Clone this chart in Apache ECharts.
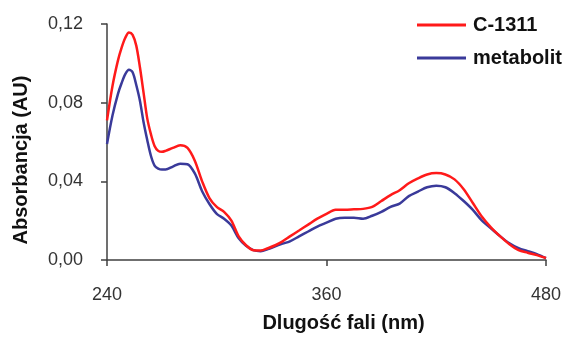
<!DOCTYPE html>
<html>
<head>
<meta charset="utf-8">
<script src="https://cdn.jsdelivr.net/npm/echarts@6/dist/echarts.min.js"></script>
<style>
html,body{margin:0;padding:0;background:#fff;}
#chart{width:565px;height:338px;}
</style>
</head>
<body>
<div id="chart"></div>
<script>
var seriesNames = ['C-1311', 'metabolit'];
var wavelengths = [240,243,246,248,250,252,254,256,258,260,262,264,266,268,270,272,276,280,284,288,292,296,300,304,308,312,316,320,324,328,332,336,340,345,350,355,360,365,370,375,380,385,390,395,400,405,410,415,420,425,430,435,440,445,450,455,460,465,470,475,480];
var c1311 = [0.071,0.0885,0.1015,0.108,0.113,0.1157,0.1145,0.109,0.098,0.085,0.072,0.064,0.058,0.0555,0.055,0.0555,0.057,0.0583,0.057,0.0505,0.040,0.0315,0.027,0.0245,0.020,0.012,0.0075,0.005,0.0048,0.006,0.0075,0.0095,0.012,0.015,0.018,0.021,0.0235,0.0255,0.0256,0.0258,0.026,0.027,0.030,0.033,0.0355,0.039,0.0415,0.0435,0.0442,0.0435,0.041,0.036,0.029,0.022,0.0165,0.012,0.008,0.005,0.0037,0.0025,0.001];
var metabolit = [0.059,0.0735,0.0845,0.090,0.0945,0.0967,0.0955,0.089,0.081,0.070,0.061,0.053,0.048,0.0465,0.046,0.046,0.0475,0.049,0.0487,0.044,0.035,0.0285,0.0235,0.021,0.0175,0.011,0.0072,0.005,0.0045,0.0055,0.007,0.0083,0.0095,0.012,0.0145,0.017,0.019,0.021,0.0215,0.0215,0.021,0.0225,0.0245,0.027,0.0287,0.0325,0.0348,0.037,0.0378,0.037,0.034,0.030,0.0255,0.020,0.016,0.012,0.0085,0.006,0.0045,0.003,0.001];
var xTicks = [240, 360, 480];
var yTicks = [0, 0.04, 0.08, 0.12];
var xTitle = 'Dlugość fali (nm)';
var yTitle = 'Absorbancja (AU)';
var colors = ['#ff1a1a', '#3a3a9a'];

function pairs(xs, ys){ return xs.map(function(x,i){ return [x, ys[i]]; }); }

var chart = echarts.init(document.getElementById('chart'));
var font = 'Liberation Sans, Arial, sans-serif';
chart.setOption({
  animation: false,
  backgroundColor: '#ffffff',
  grid: { left: 107, right: 19, top: 24, bottom: 74, containLabel: false },
  legend: {
    orient: 'vertical', left: 412, top: 10,
    itemWidth: 49, itemHeight: 3, itemGap: 13,
    icon: 'rect',
    textStyle: { fontFamily: font, fontSize: 20, fontWeight: 'bold', color: '#111', padding: [0,0,0,2] },
    data: seriesNames
  },
  xAxis: {
    type: 'value', min: xTicks[0], max: xTicks[xTicks.length-1], interval: 120,
    name: xTitle, nameLocation: 'middle', nameGap: 53,
    nameTextStyle: { fontFamily: font, fontSize: 20, fontWeight: 'bold', color: '#111', padding: [0,0,0,34] },
    axisLine: { lineStyle: { color: '#404040', width: 1.5 } },
    axisTick: { show: true, length: 6, lineStyle: { color: '#404040', width: 1.5 } },
    axisLabel: { fontFamily: font, fontSize: 18, color: '#333', margin: 26 },
    splitLine: { show: false }
  },
  yAxis: {
    type: 'value', min: yTicks[0], max: yTicks[yTicks.length-1], interval: 0.04,
    name: yTitle, nameLocation: 'middle', nameGap: 76,
    nameTextStyle: { fontFamily: font, fontSize: 20, fontWeight: 'bold', color: '#111', padding: [0,36,0,0] },
    axisLine: { show: true, lineStyle: { color: '#404040', width: 1.5 } },
    axisTick: { show: true, length: 6, lineStyle: { color: '#404040', width: 1.5 } },
    axisLabel: { fontFamily: font, fontSize: 18, color: '#333', margin: 24,
      formatter: function(v){ return v.toFixed(2).replace('.', ','); } },
    splitLine: { show: false }
  },
  series: [
    { name: seriesNames[0], type: 'line', data: pairs(wavelengths, c1311), smooth: 0.3, symbol: 'none',
      lineStyle: { color: colors[0], width: 2.5 }, itemStyle: { color: colors[0] }, z: 3 },
    { name: seriesNames[1], type: 'line', data: pairs(wavelengths, metabolit), smooth: 0.3, symbol: 'none',
      lineStyle: { color: colors[1], width: 2.5 }, itemStyle: { color: colors[1] }, z: 2 }
  ]
});
</script>
</body>
</html>
